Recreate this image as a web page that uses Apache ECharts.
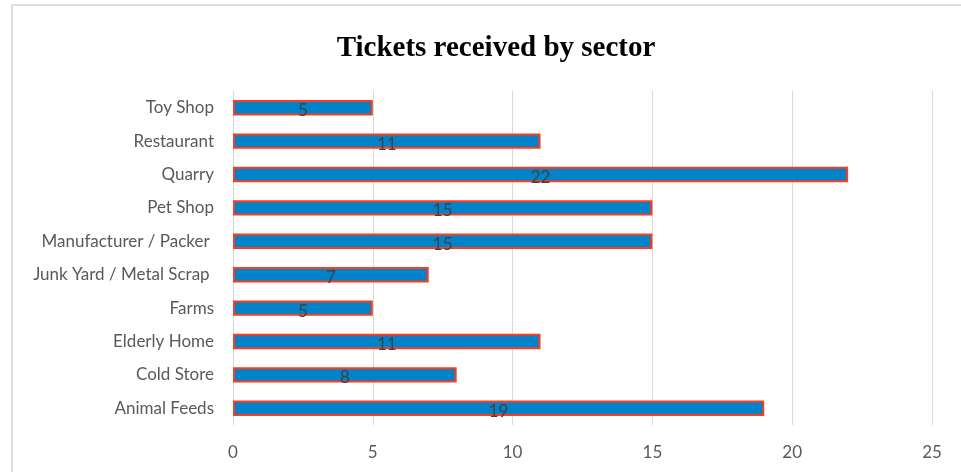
<!DOCTYPE html>
<html>
<head>
<meta charset="utf-8">
<script src="https://cdn.jsdelivr.net/npm/echarts@6/dist/echarts.min.js"></script>
<style>
  html, body { margin: 0; padding: 0; background: #fff; }
  #chart { width: 961px; height: 472px; }
</style>
</head>
<body>
<div id="chart"></div>
<script>
// data, bottom to top
var sectors = ['Animal Feeds', 'Cold Store', 'Elderly Home', 'Farms', 'Junk Yard / Metal Scrap ',
    'Manufacturer / Packer ', 'Pet Shop', 'Quarry', 'Restaurant', 'Toy Shop'];
var tickets = [19, 8, 11, 5, 7, 15, 15, 22, 11, 5];

var option = {
    backgroundColor: '#fff',
    animation: false,
    title: {
        text: 'Tickets received by sector',
        left: 491,
        textAlign: 'center',
        top: 29,
        textStyle: {
            fontFamily: '"Liberation Serif", serif',
            fontSize: 29,
            fontWeight: 'bold',
            color: '#000'
        }
    },
    // chart frame
    graphic: [{
        type: 'rect',
        shape: { x: 12, y: 5, width: 980, height: 500 },
        style: { fill: 'none', stroke: '#dedede', lineWidth: 2 },
        silent: true
    }],
    grid: { left: 233, right: 29, top: 91, bottom: 47 },
    xAxis: {
        type: 'value',
        min: 0,
        max: 25,
        interval: 5,
        axisLine: { show: false },
        axisTick: { show: false },
        splitLine: { lineStyle: { color: '#d9d9d9', width: 1 } },
        axisLabel: { color: '#595959', fontFamily: 'Lato', fontSize: 17, margin: 19 }
    },
    yAxis: {
        type: 'category',
        data: sectors,
        axisLine: { show: false },
        axisTick: { show: false },
        axisLabel: { color: '#595959', fontFamily: 'Lato', fontSize: 17, margin: 19 }
    },
    series: [{
        type: 'bar',
        data: tickets,
        barCategoryGap: '54%',
        itemStyle: {
            color: '#0083c9',
            borderColor: '#ff3b1f',
            borderWidth: 2
        },
        label: {
            show: true,
            position: 'inside',
            offset: [0, 3],
            color: '#404040',
            fontFamily: 'Lato',
            fontSize: 17
        }
    }]
};
var myChart = echarts.init(document.getElementById('chart'));
myChart.setOption(option);
</script>
</body>
</html>
